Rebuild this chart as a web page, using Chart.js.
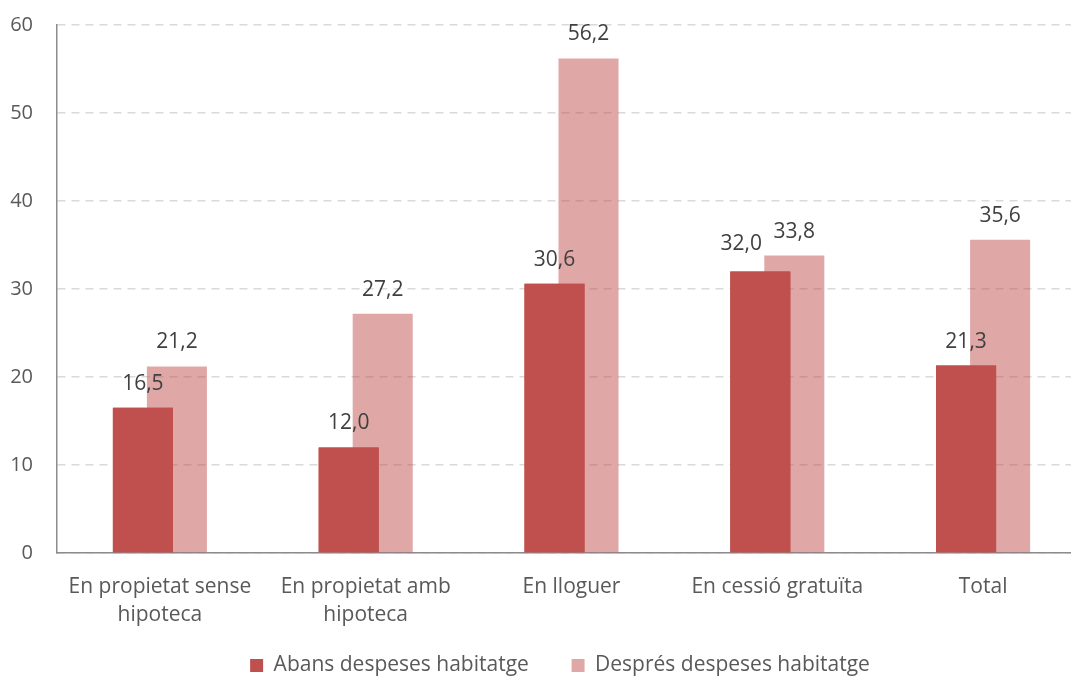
<!DOCTYPE html>
<html><head><meta charset="utf-8">
<script src="https://cdn.jsdelivr.net/npm/chart.js@4/dist/chart.umd.min.js"></script>
<style>
html,body{margin:0;padding:0;background:#fff;overflow:hidden;}
#wrap{width:1120px;height:679px;position:relative;}
</style></head><body>
<div id="wrap"><canvas id="c" width="1120" height="679"></canvas></div>
<script>
const categories = [['En propietat sense','hipoteca'],['En propietat amb','hipoteca'],'En lloguer','En cessió gratuïta','Total'];
const seriesNames = ['Abans despeses habitatge','Després despeses habitatge'];
const abans = [16.5, 12.0, 30.6, 32.0, 21.3];
const despres = [21.2, 27.2, 56.2, 33.8, 35.6];
const yMin = 0, yMax = 60, yStep = 10;

const FONT = 'Open Sans';
// label nudges (style only): dataset index -> category index -> [dx, dy]
const labelNudge = {0: {3: [-19, -3]}};
const frontPlugin = {id:'front', afterDatasetsDraw(chart){ chart.getDatasetMeta(0).controller.draw(); }};
const valuePlugin = {id:'vals', afterDatasetsDraw(chart){
  const ctx = chart.ctx; ctx.save();
  ctx.font = '21px "' + FONT + '"'; ctx.fillStyle = '#404040';
  ctx.textAlign = 'center'; ctx.textBaseline = 'middle';
  chart.data.datasets.forEach((ds,i)=>{
    chart.getDatasetMeta(i).data.forEach((el,j)=>{
      const n = (labelNudge[i] && labelNudge[i][j]) || [0, 0];
      ctx.fillText(ds.data[j].toFixed(1).replace('.', ','), el.x + n[0], el.y - 24 + n[1]);
    });
  });
  ctx.restore();
}};

new Chart(document.getElementById('c'), {
  type: 'bar',
  data: {
    labels: categories,
    datasets: [
      {label: seriesNames[0], data: abans, backgroundColor: '#C0504D', borderWidth: 0},
      {label: seriesNames[1], data: despres, backgroundColor: 'rgba(192,80,77,0.5)', borderWidth: 0}
    ]
  },
  options: {
    responsive: false, animation: false,
    barPercentage: 1.765, categoryPercentage: 0.3305,
    layout: {padding: {top: 25, bottom: -7, left: 0, right: 0}},
    scales: {
      x: {
        grid: {display: false, drawTicks: false},
        border: {display: true, color: '#8c8c8c', width: 1.5},
        ticks: {color: '#595959', font: {family: FONT, size: 21, lineHeight: 1.333}, padding: 20, maxRotation: 0, autoSkip: false},
        afterFit(s){ s.height = 92; }
      },
      y: {
        min: yMin, max: yMax,
        grid: {color: '#d9d9d9', lineWidth: 1.5, drawTicks: false},
        border: {display: true, color: '#8c8c8c', width: 1.5, dash: [8, 6]},
        ticks: {stepSize: yStep, color: '#595959', font: {family: FONT, size: 20}, padding: 24},
        afterFit(s){ s.width = 57; s.paddingTop = 0; s.paddingBottom = 0; }
      },
      yR: {
        type: 'linear', position: 'right', display: true,
        grid: {display: false, drawTicks: false}, border: {display: false},
        ticks: {display: false},
        afterFit(s){ s.width = 34; s.paddingTop = 0; s.paddingBottom = 0; }
      }
    },
    plugins: {
      legend: {position: 'bottom', labels: {
        color: '#595959', font: {family: FONT, size: 21}, boxWidth: 13, boxHeight: 13, padding: 10,
        generateLabels(chart){
          const items = Chart.defaults.plugins.legend.labels.generateLabels(chart);
          items.forEach((it, i) => { if (i < items.length - 1) it.text += '\u00a0'.repeat(6); });
          return items;
        }
      }},
      tooltip: {enabled: false}
    }
  },
  plugins: [frontPlugin, valuePlugin]
});
</script>
</body></html>
